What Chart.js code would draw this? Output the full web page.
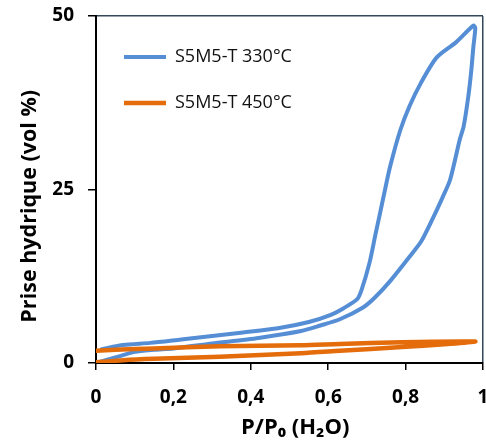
<!DOCTYPE html>
<html>
<head>
<meta charset="utf-8">
<script src="https://cdn.jsdelivr.net/npm/chart.js@4"></script>
<style>
  html, body { margin: 0; padding: 0; background: #fff; }
  #wrap { width: 486px; height: 446px; }
</style>
</head>
<body>
<div id="wrap"><canvas id="chart" width="486" height="446"></canvas></div>
<script>
// ---------- Données ----------
// S5M5-T 330°C : adsorption puis désorption (boucle)
const x330 = [0, 0.05, 0.10, 0.15, 0.20, 0.30, 0.42, 0.53, 0.58, 0.63, 0.69, 0.72, 0.76, 0.81,
  0.84, 0.87, 0.895, 0.915, 0.94, 0.95, 0.962, 0.97, 0.975, 0.98,
  0.975, 0.93, 0.88, 0.84, 0.81, 0.786, 0.76, 0.745, 0.734, 0.722, 0.707, 0.686, 0.675, 0.64, 0.605,
  0.55, 0.47, 0.38, 0.30, 0.22, 0.14, 0.07, 0.015];
const y330 = [0, 0.8, 1.6, 1.9, 2.1, 2.8, 3.6, 4.6, 5.4, 6.3, 8.0, 9.4, 11.8, 15.3,
  17.5, 20.8, 23.8, 26.4, 32.2, 34.1, 38.4, 42.3, 45.5, 48.3,
  48.6, 46.2, 44.0, 40.4, 37.0, 33.5, 28.3, 24.5, 21.6, 18.5, 14.5, 10.5, 9.2, 7.9, 6.9,
  5.9, 5.0, 4.4, 3.9, 3.4, 2.9, 2.6, 2.0];

// S5M5-T 450°C
const x450 = [0, 0.07, 0.15, 0.32, 0.53, 0.63, 0.79, 0.90, 0.98,
  0.95, 0.79, 0.63, 0.53, 0.32, 0.15, 0.05, 0];
const y450 = [0.1, 0.4, 0.6, 0.9, 1.4, 1.75, 2.3, 2.7, 3.1,
  3.1, 3.0, 2.75, 2.55, 2.4, 2.1, 1.9, 1.75];

const seriesNames = ["S5M5-T 330°C", "S5M5-T 450°C"];
const xTicks = ["0", "0,2", "0,4", "0,6", "0,8", "1"];
const yTicks = ["0", "25", "50"];

const pts = (xs, ys) => xs.map((x, i) => ({ x, y: ys[i] }));

const BLUE = "#558ed5";
const ORANGE = "#e46c0a";
const FONT = "'Open Sans', 'Liberation Sans', sans-serif";

new Chart(document.getElementById("chart"), {
  type: "scatter",
  data: {
    datasets: [
      {
        label: seriesNames[0],
        data: pts(x330, y330),
        showLine: true,
        borderColor: BLUE,
        backgroundColor: BLUE,
        borderWidth: 4,
        borderCapStyle: "round",
        borderJoinStyle: "round",
        pointRadius: 0,
        tension: 0.25,
        order: 2,
      },
      {
        label: seriesNames[1],
        data: pts(x450, y450),
        showLine: true,
        borderColor: ORANGE,
        backgroundColor: ORANGE,
        borderWidth: 4.5,
        borderCapStyle: "round",
        borderJoinStyle: "round",
        pointRadius: 0,
        tension: 0.25,
        order: 1,
      },
    ],
  },
  options: {
    responsive: false,
    animation: false,
    layout: { padding: { top: 16, right: 3, left: 0, bottom: 0 } },
    plugins: {
      tooltip: { enabled: false },
      legend: {
        position: "chartArea",
        align: "start",
        title: { display: true, text: "", font: { size: 10 }, padding: { top: 8, bottom: 0 } },
        labels: {
          usePointStyle: true,
          pointStyle: "line",
          pointStyleWidth: 42,
          padding: 28,
          color: "#111",
          font: { family: FONT, size: 18 },
          sort: (a, b) => a.datasetIndex - b.datasetIndex,
        },
      },
    },
    scales: {
      x: {
        type: "linear",
        min: 0,
        max: 1,
        ticks: {
          stepSize: 0.2,
          padding: 16,
          color: "#000",
          font: { family: FONT, size: 19, weight: "bold" },
          callback: (v, i) => xTicks[i],
        },
        grid: {
          color: (c) => (c.tick && c.tick.value === 1 ? "#33475b" : "transparent"),
          lineWidth: 1.5,
          tickColor: "#000",
          tickLength: 7,
        },
        border: { color: "#000", width: 2 },
        title: {
          display: true,
          text: "  P/P₀ (H₂O)",
          color: "#000",
          font: { family: FONT, size: 22, weight: "bold" },
          padding: { top: 0, bottom: 5 },
        },
        afterFit: (s) => { s.height = 83; s.paddingRight = 0; s.paddingLeft = 0; },
      },
      y: {
        type: "linear",
        min: 0,
        max: 50,
        ticks: {
          stepSize: 25,
          padding: 14,
          color: "#000",
          font: { family: FONT, size: 19, weight: "bold" },
          callback: (v, i) => yTicks[i],
        },
        grid: {
          color: (c) => (c.tick && c.tick.value === 50 ? "#33475b" : "transparent"),
          lineWidth: 1.5,
          tickColor: "#000",
          tickLength: 8,
        },
        border: { color: "#000", width: 2 },
        title: {
          display: true,
          text: "Prise hydrique (vol %)      ",
          color: "#000",
          font: { family: FONT, size: 21.5, weight: "bold" },
          padding: { top: 17, bottom: 0 },
        },
        afterFit: (s) => { s.width = 96; s.paddingTop = 0; s.paddingBottom = 0; },
      },
    },
  },
});
</script>
</body>
</html>
